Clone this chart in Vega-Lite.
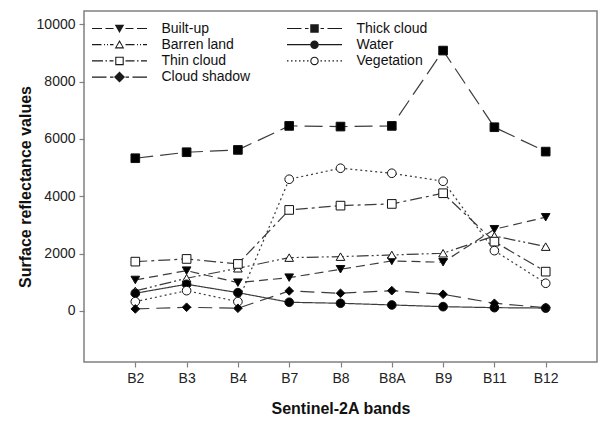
{
  "$schema": "https://vega.github.io/schema/vega-lite/v6.json",
  "autosize": {"type": "none"},
  "padding": {"left": 84, "top": 11, "right": 4, "bottom": 61},
  "width": 513,
  "height": 351,
  "background": "white",
  "config": {
    "view": {"stroke": "#808080", "strokeWidth": 1.5},
    "font": "Liberation Sans"
  },
  "data": {
    "values": [
      {"band": "B2", "class": "Built-up", "value": 1081},
      {"band": "B3", "class": "Built-up", "value": 1406},
      {"band": "B4", "class": "Built-up", "value": 987},
      {"band": "B7", "class": "Built-up", "value": 1162},
      {"band": "B8", "class": "Built-up", "value": 1454},
      {"band": "B8A", "class": "Built-up", "value": 1744},
      {"band": "B9", "class": "Built-up", "value": 1699},
      {"band": "B11", "class": "Built-up", "value": 2850},
      {"band": "B12", "class": "Built-up", "value": 3268},
      {"band": "B2", "class": "Thick cloud", "value": 5326},
      {"band": "B3", "class": "Thick cloud", "value": 5535},
      {"band": "B4", "class": "Thick cloud", "value": 5616},
      {"band": "B7", "class": "Thick cloud", "value": 6453},
      {"band": "B8", "class": "Thick cloud", "value": 6430},
      {"band": "B8A", "class": "Thick cloud", "value": 6453},
      {"band": "B9", "class": "Thick cloud", "value": 9080},
      {"band": "B11", "class": "Thick cloud", "value": 6407},
      {"band": "B12", "class": "Thick cloud", "value": 5557},
      {"band": "B2", "class": "Barren land", "value": 698},
      {"band": "B3", "class": "Barren land", "value": 1140},
      {"band": "B4", "class": "Barren land", "value": 1489},
      {"band": "B7", "class": "Barren land", "value": 1860},
      {"band": "B8", "class": "Barren land", "value": 1894},
      {"band": "B8A", "class": "Barren land", "value": 1953},
      {"band": "B9", "class": "Barren land", "value": 2012},
      {"band": "B11", "class": "Barren land", "value": 2616},
      {"band": "B12", "class": "Barren land", "value": 2243},
      {"band": "B2", "class": "Water", "value": 617},
      {"band": "B3", "class": "Water", "value": 931},
      {"band": "B4", "class": "Water", "value": 638},
      {"band": "B7", "class": "Water", "value": 303},
      {"band": "B8", "class": "Water", "value": 268},
      {"band": "B8A", "class": "Water", "value": 209},
      {"band": "B9", "class": "Water", "value": 150},
      {"band": "B11", "class": "Water", "value": 115},
      {"band": "B12", "class": "Water", "value": 100},
      {"band": "B2", "class": "Thin cloud", "value": 1720},
      {"band": "B3", "class": "Thin cloud", "value": 1814},
      {"band": "B4", "class": "Thin cloud", "value": 1640},
      {"band": "B7", "class": "Thin cloud", "value": 3523},
      {"band": "B8", "class": "Thin cloud", "value": 3673},
      {"band": "B8A", "class": "Thin cloud", "value": 3732},
      {"band": "B9", "class": "Thin cloud", "value": 4105},
      {"band": "B11", "class": "Thin cloud", "value": 2417},
      {"band": "B12", "class": "Thin cloud", "value": 1371},
      {"band": "B2", "class": "Vegetation", "value": 324},
      {"band": "B3", "class": "Vegetation", "value": 708},
      {"band": "B4", "class": "Vegetation", "value": 324},
      {"band": "B7", "class": "Vegetation", "value": 4593},
      {"band": "B8", "class": "Vegetation", "value": 4977},
      {"band": "B8A", "class": "Vegetation", "value": 4802},
      {"band": "B9", "class": "Vegetation", "value": 4523},
      {"band": "B11", "class": "Vegetation", "value": 2103},
      {"band": "B12", "class": "Vegetation", "value": 966},
      {"band": "B2", "class": "Cloud shadow", "value": 70},
      {"band": "B3", "class": "Cloud shadow", "value": 129},
      {"band": "B4", "class": "Cloud shadow", "value": 94},
      {"band": "B7", "class": "Cloud shadow", "value": 698},
      {"band": "B8", "class": "Cloud shadow", "value": 617},
      {"band": "B8A", "class": "Cloud shadow", "value": 708},
      {"band": "B9", "class": "Cloud shadow", "value": 582},
      {"band": "B11", "class": "Cloud shadow", "value": 268},
      {"band": "B12", "class": "Cloud shadow", "value": 115}
    ]
  },
  "encoding": {
    "x": {
      "field": "band",
      "type": "ordinal",
      "sort": ["B2", "B3", "B4", "B7", "B8", "B8A", "B9", "B11", "B12"],
      "scale": {"type": "point", "padding": 1},
      "axis": {
        "title": "Sentinel-2A bands",
        "titleFont": "Liberation Sans",
        "titleFontSize": 16,
        "titleFontWeight": "bold",
        "titleColor": "#111",
        "titlePadding": 15,
        "labelAngle": 0,
        "labelFont": "Liberation Sans",
        "labelFontSize": 14,
        "labelColor": "#222",
        "labelPadding": 4,
        "domain": false,
        "ticks": true,
        "tickColor": "#808080",
        "tickSize": 5,
        "tickWidth": 1.2,
        "grid": false
      }
    },
    "y": {
      "field": "value",
      "type": "quantitative",
      "scale": {"domain": [-1780, 10460], "nice": false, "zero": false},
      "axis": {
        "title": "Surface reflectance values",
        "titleFont": "Liberation Sans",
        "titleFontSize": 16,
        "titleFontWeight": "bold",
        "titleColor": "#111",
        "titlePadding": 3,
        "values": [0, 2000, 4000, 6000, 8000, 10000],
        "format": "d",
        "labelFont": "Liberation Sans",
        "labelFontSize": 14,
        "labelColor": "#222",
        "labelPadding": 4,
        "domain": false,
        "ticks": true,
        "tickColor": "#808080",
        "tickSize": 5,
        "tickWidth": 1.2,
        "grid": false
      }
    }
  },
  "resolve": {"scale": {"shape": "independent"}},
  "layer": [
    {
      "mark": {"type": "line", "color": "#3c3c3c", "strokeWidth": 1.2},
      "encoding": {
        "detail": {"field": "class", "type": "nominal"},
        "strokeDash": {
          "field": "class",
          "type": "nominal",
          "scale": {
            "domain": ["Built-up", "Barren land", "Thin cloud", "Cloud shadow", "Thick cloud", "Water", "Vegetation"],
            "range": [[9, 5], [12, 3, 2, 3, 2, 3], [12, 4, 3, 4], [14, 7], [18, 7], [1, 0], [2, 3]]
          },
          "legend": null
        }
      }
    },
    {
      "mark": {"type": "point", "filled": true, "size": 75, "stroke": "#111", "strokeWidth": 1, "opacity": 1},
      "encoding": {
        "shape": {
          "field": "class",
          "type": "nominal",
          "scale": {
            "domain": ["Built-up", "Barren land", "Thin cloud", "Cloud shadow", "Thick cloud", "Water", "Vegetation"],
            "range": ["triangle-down", "triangle-up", "square", "diamond", "square", "circle", "circle"]
          },
          "legend": null
        },
        "fill": {
          "field": "class",
          "type": "nominal",
          "scale": {
            "domain": ["Built-up", "Barren land", "Thin cloud", "Cloud shadow", "Thick cloud", "Water", "Vegetation"],
            "range": ["#000000", "#ffffff", "#ffffff", "#000000", "#000000", "#000000", "#ffffff"]
          },
          "legend": null
        }
      }
    },
    {
      "transform": [{"filter": "false"}],
      "mark": {"type": "point", "filled": true, "size": 100, "color": "#1a1a1a", "strokeWidth": 0, "opacity": 1},
      "encoding": {
        "shape": {
          "field": "class",
          "type": "nominal",
          "scale": {
            "domain": ["Built-up", "Barren land", "Thin cloud", "Cloud shadow", "Thick cloud", "Water", "Vegetation"],
            "range": [
              "M-5.5,-0.12H-3.5V0.12H-5.5ZM-2.8,-0.12H-1.2V0.12H-2.8ZM1.2,-0.12H2.8V0.12H1.2ZM3.5,-0.12H5.5V0.12H3.5ZM-0.95,-0.75L0.95,-0.75L0,0.9Z",
              "M-5.5,-0.12H-3.6V0.12H-5.5ZM-3.1,-0.12H-2.9V0.12H-3.1ZM-2.5,-0.12H-2.3V0.12H-2.5ZM-1.9,-0.12H-1.2V0.12H-1.9ZM1.2,-0.12H3V0.12H1.2ZM3.5,-0.12H3.7V0.12H3.5ZM4.1,-0.12H4.3V0.12H4.1ZM4.7,-0.12H5.5V0.12H4.7ZM0,-0.95L0.95,0.75L-0.95,0.75ZM0,-0.5L-0.6,0.53L0.6,0.53Z",
              "M-5.5,-0.12H-3.3V0.12H-5.5ZM-2.8,-0.12H-2.5V0.12H-2.8ZM-2,-0.12H-1.2V0.12H-2ZM1.2,-0.12H3V0.12H1.2ZM3.5,-0.12H3.8V0.12H3.5ZM4.3,-0.12H5.5V0.12H4.3ZM-0.85,-0.85H0.85V0.85H-0.85ZM-0.63,-0.63V0.63H0.63V-0.63Z",
              "M-5.5,-0.12H-2.6V0.12H-5.5ZM-1.9,-0.12H-1.2V0.12H-1.9ZM1.2,-0.12H1.9V0.12H1.2ZM2.6,-0.12H5.5V0.12H2.6ZM0,-1.1L1.1,0L0,1.1L-1.1,0Z",
              "M-5.5,-0.12H-2.6V0.12H-5.5ZM-1.9,-0.12H-1.2V0.12H-1.9ZM1.2,-0.12H1.9V0.12H1.2ZM2.6,-0.12H5.5V0.12H2.6ZM-0.85,-0.85H0.85V0.85H-0.85Z",
              "M-5.5,-0.12H-0.85V0.12H-5.5ZM0.85,-0.12H5.5V0.12H0.85ZM0.85,0A0.85,0.85 0 1,1 -0.85,0A0.85,0.85 0 1,1 0.85,0Z",
              "M-5.5,-0.12H-5.2V0.12H-5.5ZM-4.7,-0.12H-4.4V0.12H-4.7ZM-3.9,-0.12H-3.6V0.12H-3.9ZM-3.1,-0.12H-2.8V0.12H-3.1ZM-2.3,-0.12H-2V0.12H-2.3ZM-1.5,-0.12H-1.2V0.12H-1.5ZM1.2,-0.12H1.5V0.12H1.2ZM2,-0.12H2.3V0.12H2ZM2.8,-0.12H3.1V0.12H2.8ZM3.6,-0.12H3.9V0.12H3.6ZM4.4,-0.12H4.7V0.12H4.4ZM5.2,-0.12H5.5V0.12H5.2ZM0.85,0A0.85,0.85 0 1,1 -0.85,0A0.85,0.85 0 1,1 0.85,0ZM0.63,0A0.63,0.63 0 1,0 -0.63,0A0.63,0.63 0 1,0 0.63,0Z"
            ]
          },
          "legend": {
            "title": null,
            "orient": "none",
            "legendX": 28.5,
            "legendY": 10.5,
            "direction": "vertical",
            "columns": 2,
            "columnPadding": 36,
            "rowPadding": 2.2,
            "symbolSize": 100,
            "symbolStrokeWidth": 0,
            "labelFont": "Liberation Sans",
            "labelFontSize": 14,
            "labelColor": "#111",
            "labelOffset": 35,
            "padding": 0
          }
        }
      }
    }
  ]
}
